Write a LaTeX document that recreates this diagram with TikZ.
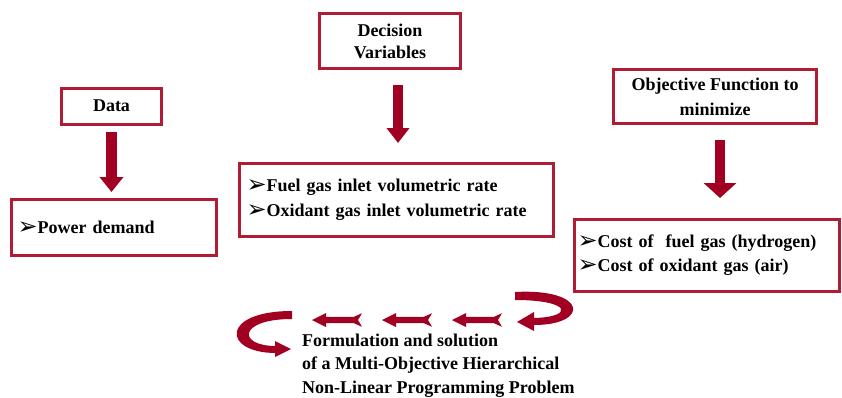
\documentclass[tikz,border=0pt]{standalone}
\usepackage{fontspec}
\setmainfont{Liberation Serif}
\newfontfamily\symfont{DejaVu Sans}
\usetikzlibrary{arrows.meta}
\definecolor{boxred}{RGB}{176,28,52}
\definecolor{arrowred}{RGB}{162,0,34}
\newcommand\bul{{\symfont\fontsize{24}{22}\selectfont\raisebox{-1pt}{➢}}}
\begin{document}
\begin{tikzpicture}[x=1pt,y=-1pt,
  every node/.style={font=\bfseries\fontsize{18}{24}\selectfont},
  rbox/.style={draw=boxred, line width=3pt, inner sep=0pt},
  bigarrow/.style={draw=arrowred, line width=#1},
  ]
\path[use as bounding box, fill=white] (0,0) rectangle (842,397);

% boxes
\node[rbox, minimum width=100pt, minimum height=36pt] (data) at (111.5,106) {Data};
\node[rbox, text width=193pt, inner xsep=6pt, minimum height=56pt, align=left] (power) at (114,227.5) {\bul Power demand};
\node[rbox, minimum width=141pt, minimum height=55pt, align=center, font=\bfseries\fontsize{18}{22}\selectfont] (dec) at (390,41) {Decision\\Variables};
\node[rbox, text width=300pt, inner xsep=7pt, minimum height=73pt, align=left, font=\bfseries\fontsize{18}{25}\selectfont] (fuel) at (396.5,200) {\bul Fuel gas inlet volumetric rate\\\bul Oxidant gas inlet volumetric rate};
\node[rbox, minimum width=203pt, minimum height=54pt, align=center, font=\bfseries\fontsize{18}{25}\selectfont] (obj) at (715,96.5) {Objective Function to\\minimize};
\node[rbox, text width=259pt, inner xsep=3pt, minimum height=72pt, align=left, font=\bfseries\fontsize{18}{24}\selectfont] (cost) at (707,255.5) {\bul Cost of~ fuel gas (hydrogen)\\\bul Cost of oxidant gas (air)\\[4pt]};

% vertical arrows
\draw[bigarrow=11pt, -{Triangle[width=23pt,length=15pt]}] ([yshift=-6.5pt]data.south) -- ([yshift=6pt]data.south |- power.north);
\draw[bigarrow=10pt, -{Triangle[width=22pt,length=15pt]}] ([xshift=8pt,yshift=-15pt]dec.south) -- ([xshift=8pt,yshift=19pt]dec.south |- fuel.north);
\draw[bigarrow=10pt, -{Triangle[width=32pt,length=15pt]}] ([xshift=5pt,yshift=-15pt]obj.south) -- ([xshift=5pt,yshift=20pt]obj.south |- cost.north);

% bottom text
\node[anchor=north west, inner sep=0pt, align=left, font=\bfseries\fontsize{18}{23.5}\selectfont] (form) at (302,333.5) {Formulation and solution\\of a Multi-Objective Hierarchical\\Non-Linear Programming Problem};

% straight left arrows with notched tails
\foreach \tx in {312,382,452}{
  \fill[arrowred] (\tx,320) -- ++(14,-7) -- ++(0,3.8) -- ++(28,0) -- ++(8,-3.6) -- ++(-4,6.8) -- ++(4,6.8) -- ++(-8,-3.6) -- ++(-28,0) -- ++(0,3.8) -- cycle;
}

% right curved arrow
\fill[arrowred] (515,292) .. controls (588,288) and (590,325) .. (534,325) -- (534,318) .. controls (574,317) and (572,300) .. (515,300) -- cycle;
\fill[arrowred] (534,312) -- (517,322) -- (534,331) -- cycle;

% left curved arrow
\fill[arrowred] (292,311) .. controls (220,311) and (222,353) .. (276,353) -- (276,346) .. controls (237,346) and (238,319) .. (292,319) -- cycle;
\fill[arrowred] (275,341) -- (291,349) -- (275,357) -- cycle;
\end{tikzpicture}
\end{document}
